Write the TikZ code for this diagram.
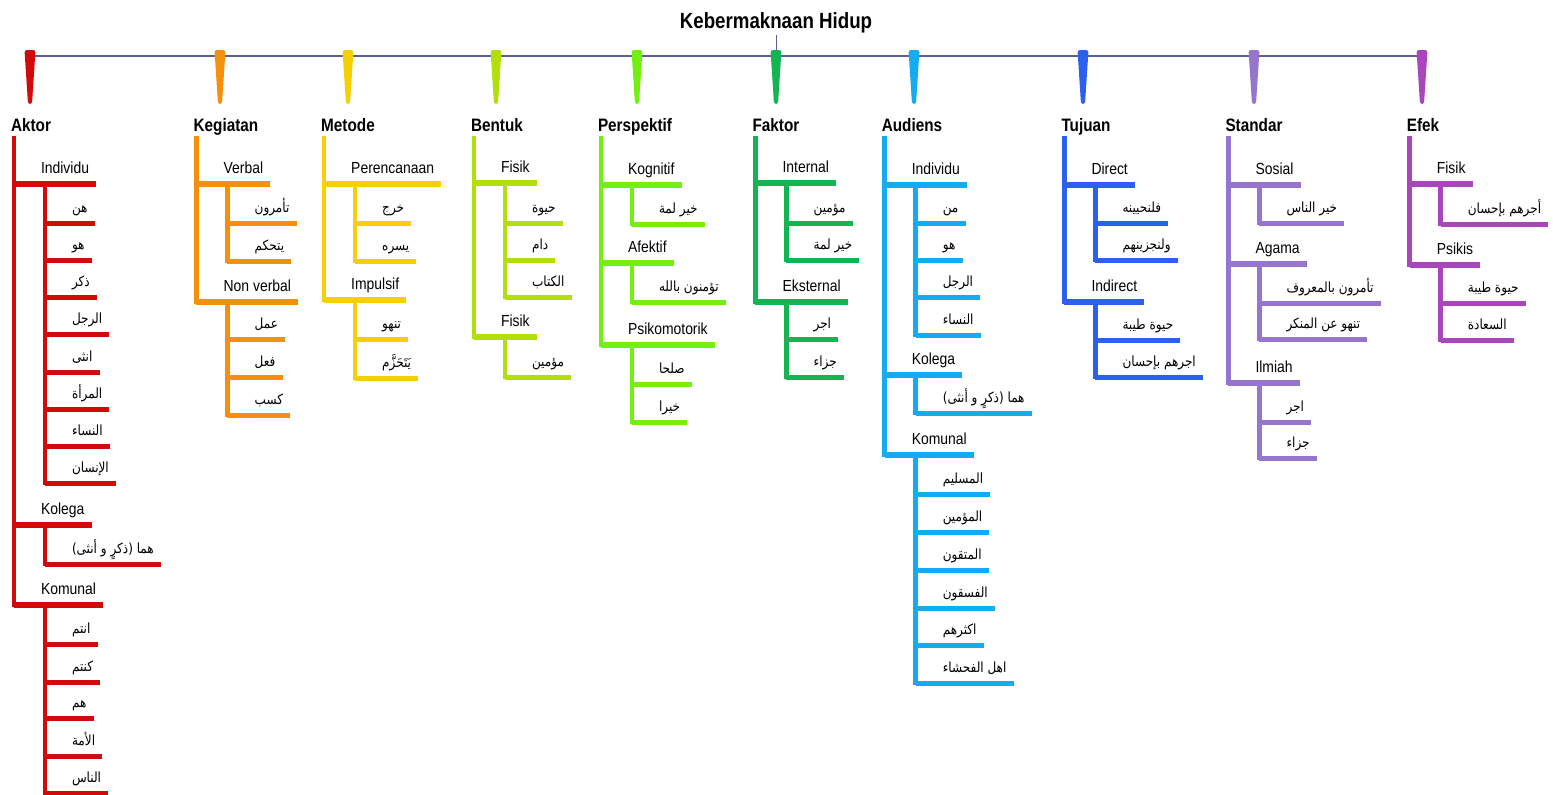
\documentclass[tikz,border=0pt]{standalone}
\usepackage{fontspec}
\setmainfont{Liberation Sans}
\newfontfamily\lvfont[FakeStretch=0.87]{Liberation Sans}
\newfontfamily\catfont[FakeStretch=0.85]{Liberation Sans}
\newfontfamily\arabicfont[Script=Arabic,FakeStretch=0.86]{DejaVu Sans}
\TeXXeTstate=1
\definecolor{akc}{HTML}{D10A0A}
\definecolor{kgc}{HTML}{F5900C}
\definecolor{mtc}{HTML}{F7CF05}
\definecolor{btc}{HTML}{B2DF0A}
\definecolor{psc}{HTML}{74F010}
\definecolor{fkc}{HTML}{12B552}
\definecolor{auc}{HTML}{14ACF0}
\definecolor{tjc}{HTML}{2C60F0}
\definecolor{stc}{HTML}{9676CC}
\definecolor{efc}{HTML}{A946BC}
\definecolor{rootc}{HTML}{5B5E9A}
\colorlet{cur}{black}
\newcommand\artx[1]{{\arabicfont\fontsize{14}{15}\selectfont\beginR #1\endR}}
\tikzset{
  lvone/.style={inner sep=0pt, anchor=base west, font=\lvfont\fontsize{16}{16}\selectfont, text=black},
  lvtwo/.style={inner sep=0pt, anchor=base west, text=black},
  lvonebar/.style={draw=cur, line width=6pt},
  lvtwobar/.style={draw=cur, line width=5pt},
  trunk/.style={draw=cur, line width=4.5pt, line cap=rect},
  catlbl/.style={inner sep=0pt, anchor=base, text=black, font=\catfont\bfseries\fontsize{18}{18}\selectfont},
  titlelbl/.style={inner sep=0pt, anchor=base, text=black, font=\catfont\bfseries\fontsize{22}{22}\selectfont},
  rootline/.style={draw=rootc, line width=2.5pt},
}
% #1 name, #2 stem x, #3 label centre x, #4 colour, #5 label
\newcommand\catg[5]{%
  \colorlet{cur}{#4}%
  \fill[cur, rounded corners=2.5pt] (#2-5.5,50) -- (#2+5.5,50) -- (#2+2,104) -- (#2-2,104) -- cycle;
  \node[catlbl] (#1) at (#3,131) {#5};
  \coordinate (#1T) at ([xshift=3pt]#1.base west);
}
% #1 name, #2 parent coordinate, #3 bar y, #4 level style, #5 text
\newcommand\itm[5]{%
  \node[#4, xshift=27pt, yshift=11pt] (#1) at (#2 |- 0,#3) {#5};
  \draw[#4bar] (#2 |- 0,#3) -- (#1.east |- 0,#3) -- ++(7,0);
  \coordinate (#1s) at ([xshift=4pt]#1.base west);
}
% #1 coordinate, #2 from y, #3 to y
\newcommand\subt[3]{\draw[trunk] (#1 |- 0,#2) -- (#1 |- 0,#3);}
\begin{document}
\begin{tikzpicture}[x=1pt, y=-1pt]
\useasboundingbox (0,0) rectangle (1553,795);
\fill[white] (0,0) rectangle (1553,795);
% title and root line
\node[titlelbl] (title) at (776,28) {Kebermaknaan Hidup};
\coordinate (rootL) at (30,56);
\coordinate (rootR) at (1422,56);
\draw[rootc, line width=1pt] ([yshift=-2pt]title.south) -- (title.south |- rootL);
\draw[rootline] (rootL) -- (rootR);

% ---------------- Aktor
\catg{ak}{30}{31}{akc}{Aktor}
\subt{akT}{138}{605}
\itm{akI}{akT}{184}{lvone}{Individu}
\itm{akI1}{akIs}{223}{lvtwo}{\artx{هن}}
\itm{akI2}{akIs}{260}{lvtwo}{\artx{هو}}
\itm{akI3}{akIs}{297}{lvtwo}{\artx{ذكر}}
\itm{akI4}{akIs}{334}{lvtwo}{\artx{الرجل}}
\itm{akI5}{akIs}{372}{lvtwo}{\artx{انثى}}
\itm{akI6}{akIs}{409}{lvtwo}{\artx{المرأة}}
\itm{akI7}{akIs}{446}{lvtwo}{\artx{النساء}}
\itm{akI8}{akIs}{483}{lvtwo}{\artx{الإنسان}}
\subt{akIs}{184}{483}
\itm{akK}{akT}{525}{lvone}{Kolega}
\itm{akK1}{akKs}{564}{lvtwo}{\artx{هما (ذكرٍ و أنثى)}}
\subt{akKs}{525}{564}
\itm{akC}{akT}{605}{lvone}{Komunal}
\itm{akC1}{akCs}{644}{lvtwo}{\artx{انتم}}
\itm{akC2}{akCs}{682}{lvtwo}{\artx{كنتم}}
\itm{akC3}{akCs}{718}{lvtwo}{\artx{هم}}
\itm{akC4}{akCs}{756}{lvtwo}{\artx{الأمة}}
\itm{akC5}{akCs}{793}{lvtwo}{\artx{الناس}}
\subt{akCs}{605}{793}

% ---------------- Kegiatan
\catg{kg}{220}{226}{kgc}{Kegiatan}
\subt{kgT}{138}{302}
\itm{kgV}{kgT}{184}{lvone}{Verbal}
\itm{kgV1}{kgVs}{223}{lvtwo}{\artx{تأمرون}}
\itm{kgV2}{kgVs}{261}{lvtwo}{\artx{يتحكم}}
\subt{kgVs}{184}{261}
\itm{kgN}{kgT}{302}{lvone}{Non verbal}
\itm{kgN1}{kgNs}{339}{lvtwo}{\artx{عمل}}
\itm{kgN2}{kgNs}{377}{lvtwo}{\artx{فعل}}
\itm{kgN3}{kgNs}{415}{lvtwo}{\artx{كسب}}
\subt{kgNs}{302}{415}

% ---------------- Metode
\catg{mt}{348}{348}{mtc}{Metode}
\subt{mtT}{138}{300}
\itm{mtP}{mtT}{184}{lvone}{Perencanaan}
\itm{mtP1}{mtPs}{223}{lvtwo}{\artx{خرج}}
\itm{mtP2}{mtPs}{261}{lvtwo}{\artx{يسره}}
\subt{mtPs}{184}{261}
\itm{mtI}{mtT}{300}{lvone}{Impulsif}
\itm{mtI1}{mtIs}{339}{lvtwo}{\artx{تنهو}}
\itm{mtI2}{mtIs}{378}{lvtwo}{\artx{يَتَحَزَّم}}
\subt{mtIs}{300}{378}

% ---------------- Bentuk
\catg{bt}{496}{497}{btc}{Bentuk}
\subt{btT}{138}{337}
\itm{btF}{btT}{183}{lvone}{Fisik}
\itm{btF1}{btFs}{223}{lvtwo}{\artx{حيوة}}
\itm{btF2}{btFs}{260}{lvtwo}{\artx{دام}}
\itm{btF3}{btFs}{297}{lvtwo}{\artx{الكتاب}}
\subt{btFs}{183}{297}
\itm{btG}{btT}{337}{lvone}{Fisik}
\itm{btG1}{btGs}{377}{lvtwo}{\artx{مؤمين}}
\subt{btGs}{337}{377}

% ---------------- Perspektif
\catg{ps}{637}{635}{psc}{Perspektif}
\subt{psT}{138}{345}
\itm{psK}{psT}{185}{lvone}{Kognitif}
\itm{psK1}{psKs}{224}{lvtwo}{\artx{خير لمة}}
\subt{psKs}{185}{224}
\itm{psA}{psT}{263}{lvone}{Afektif}
\itm{psA1}{psAs}{302}{lvtwo}{\artx{تؤمنون بالله}}
\subt{psAs}{263}{302}
\itm{psP}{psT}{345}{lvone}{Psikomotorik}
\itm{psP1}{psPs}{384}{lvtwo}{\artx{صلحا}}
\itm{psP2}{psPs}{422}{lvtwo}{\artx{خيرا}}
\subt{psPs}{345}{422}

% ---------------- Faktor
\catg{fk}{776}{776}{fkc}{Faktor}
\subt{fkT}{138}{302}
\itm{fkI}{fkT}{183}{lvone}{Internal}
\itm{fkI1}{fkIs}{223}{lvtwo}{\artx{مؤمين}}
\itm{fkI2}{fkIs}{260}{lvtwo}{\artx{خير لمة}}
\subt{fkIs}{183}{260}
\itm{fkE}{fkT}{302}{lvone}{Eksternal}
\itm{fkE1}{fkEs}{339}{lvtwo}{\artx{اجر}}
\itm{fkE2}{fkEs}{377}{lvtwo}{\artx{جزاء}}
\subt{fkEs}{302}{377}

% ---------------- Audiens
\catg{au}{914}{912}{auc}{Audiens}
\subt{auT}{138}{455}
\itm{auI}{auT}{185}{lvone}{Individu}
\itm{auI1}{auIs}{223}{lvtwo}{\artx{من}}
\itm{auI2}{auIs}{260}{lvtwo}{\artx{هو}}
\itm{auI3}{auIs}{297}{lvtwo}{\artx{الرجل}}
\itm{auI4}{auIs}{335}{lvtwo}{\artx{النساء}}
\subt{auIs}{185}{335}
\itm{auK}{auT}{375}{lvone}{Kolega}
\itm{auK1}{auKs}{413}{lvtwo}{\artx{هما (ذكرٍ و أنثى)}}
\subt{auKs}{375}{413}
\itm{auC}{auT}{455}{lvone}{Komunal}
\itm{auC1}{auCs}{494}{lvtwo}{\artx{المسليم}}
\itm{auC2}{auCs}{532}{lvtwo}{\artx{المؤمين}}
\itm{auC3}{auCs}{570}{lvtwo}{\artx{المتقون}}
\itm{auC4}{auCs}{608}{lvtwo}{\artx{الفسقون}}
\itm{auC5}{auCs}{645}{lvtwo}{\artx{اكثرهم}}
\itm{auC6}{auCs}{683}{lvtwo}{\artx{اهل الفحشاء}}
\subt{auCs}{455}{683}

% ---------------- Tujuan
\catg{tj}{1083}{1086}{tjc}{Tujuan}
\subt{tjT}{138}{302}
\itm{tjD}{tjT}{185}{lvone}{Direct}
\itm{tjD1}{tjDs}{223}{lvtwo}{\artx{فلنحيينه}}
\itm{tjD2}{tjDs}{260}{lvtwo}{\artx{ولنجزينهم}}
\subt{tjDs}{185}{260}
\itm{tjI}{tjT}{302}{lvone}{Indirect}
\itm{tjI1}{tjIs}{340}{lvtwo}{\artx{حيوة طيبة}}
\itm{tjI2}{tjIs}{377}{lvtwo}{\artx{اجرهم بإحسان}}
\subt{tjIs}{302}{377}

% ---------------- Standar
\catg{st}{1254}{1254}{stc}{Standar}
\subt{stT}{138}{383}
\itm{stS}{stT}{185}{lvone}{Sosial}
\itm{stS1}{stSs}{223}{lvtwo}{\artx{خير الناس}}
\subt{stSs}{185}{223}
\itm{stA}{stT}{264}{lvone}{Agama}
\itm{stA1}{stAs}{303}{lvtwo}{\artx{تأمرون بالمعروف}}
\itm{stA2}{stAs}{339}{lvtwo}{\artx{تنهو عن المنكر}}
\subt{stAs}{264}{339}
\itm{stI}{stT}{383}{lvone}{Ilmiah}
\itm{stI1}{stIs}{422}{lvtwo}{\artx{اجر}}
\itm{stI2}{stIs}{458}{lvtwo}{\artx{جزاء}}
\subt{stIs}{383}{458}

% ---------------- Efek
\catg{ef}{1422}{1423}{efc}{Efek}
\subt{efT}{138}{265}
\itm{efF}{efT}{184}{lvone}{Fisik}
\itm{efF1}{efFs}{224}{lvtwo}{\artx{أجرهم بإحسان}}
\subt{efFs}{184}{224}
\itm{efP}{efT}{265}{lvone}{Psikis}
\itm{efP1}{efPs}{303}{lvtwo}{\artx{حيوة طيبة}}
\itm{efP2}{efPs}{340}{lvtwo}{\artx{السعادة}}
\subt{efPs}{265}{340}
\end{tikzpicture}
\end{document}
